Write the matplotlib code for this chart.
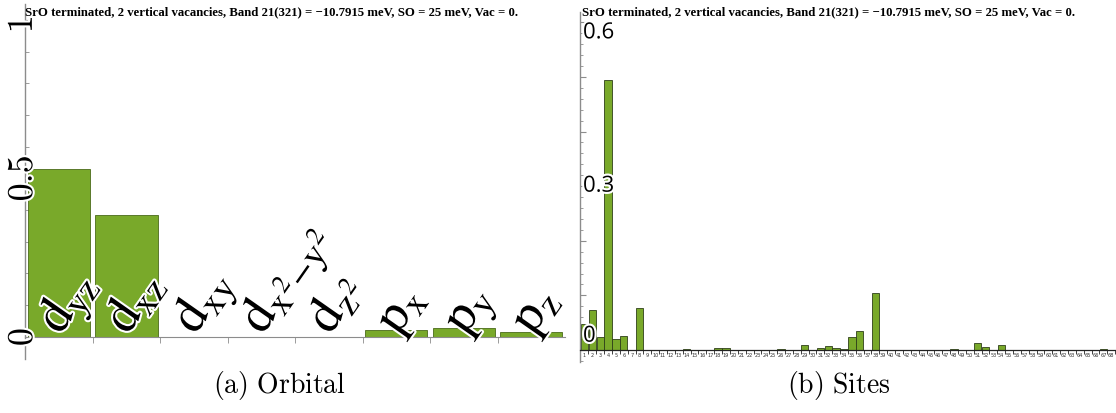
import matplotlib
matplotlib.use("Agg")
import matplotlib.pyplot as plt
import matplotlib.patheffects as pe
from matplotlib.ticker import MultipleLocator, FixedLocator, NullFormatter
from matplotlib.transforms import blended_transform_factory

# ---- data -----------------------------------------------------------------
title = ("SrO terminated, 2 vertical vacancies, Band 21(321) = \u221210.7915 meV, "
         "SO = 25 meV, Vac = 0.")

orbital_labels = [r"$\mathrm{d}_{\mathrm{yz}}$", r"$\mathrm{d}_{\mathrm{xz}}$",
                  r"$\mathrm{d}_{\mathrm{xy}}$",
                  r"$\mathrm{d}_{\mathrm{x}^{2}\mathrm{-y}^{2}}$",
                  r"$\mathrm{d}_{\mathrm{z}^{2}}$", r"$\mathrm{p}_{\mathrm{x}}$",
                  r"$\mathrm{p}_{\mathrm{y}}$", r"$\mathrm{p}_{\mathrm{z}}$"]
orbital_weight = [0.530, 0.385, 0.0, 0.0, 0.0, 0.023, 0.029, 0.016]
orbital_yticks = [0, 0.5, 1]

sites = list(range(1, 69))
site_weight = [
    0.048, 0.073, 0.024, 0.495, 0.020, 0.025, 0.0, 0.076, 0.0, 0.0,      # 1-10
    0.0, 0.0, 0.0, 0.001, 0.0, 0.0, 0.0, 0.004, 0.003, 0.0,              # 11-20
    0.0, 0.0, 0.0, 0.0, 0.0, 0.001, 0.0, 0.0, 0.0085, 0.0,               # 21-30
    0.004, 0.0073, 0.004, 0.001, 0.024, 0.034, 0.0, 0.105, 0.0, 0.0,     # 31-40
    0.0, 0.0, 0.0, 0.0, 0.0, 0.0, 0.0, 0.002, 0.0, 0.0,                  # 41-50
    0.012, 0.005, 0.0, 0.010, 0.0, 0.0, 0.0, 0.0, 0.0, 0.0,              # 51-60
    0.0, 0.0, 0.0, 0.0, 0.0, 0.0, 0.002, 0.0,                            # 61-68
]
site_yticks = [0, 0.3, 0.6]

captions = [r"$\mathrm{(a)\ Orbital}$", r"$\mathrm{(b)\ Sites}$"]

# ---- style ----------------------------------------------------------------
GREEN = "#79A92A"
EDGE = "#4a6a1a"
AXIS_GRAY = "#8c8c8c"
halo = [pe.withStroke(linewidth=3, foreground="white")]

W, H = 1116, 414
fig = plt.figure(figsize=(W / 100, H / 100), dpi=100)
fig.patch.set_facecolor("white")

# ---- (a) orbital weights ----------------------------------------------------
axL = fig.add_axes([25 / W, 54 / H, 540 / W, 355 / H])
xs = list(range(len(orbital_weight)))
axL.bar(xs, orbital_weight, width=0.92, color=GREEN, edgecolor=EDGE,
        linewidth=0.6, zorder=2)
axL.set_xlim(-0.504, 7.5)
axL.set_ylim(-0.07, 1.05)
for s in ("top", "right"):
    axL.spines[s].set_visible(False)
axL.spines["bottom"].set_position(("data", 0))
axL.spines["bottom"].set_color(AXIS_GRAY)
axL.spines["left"].set_color(AXIS_GRAY)
axL.spines["left"].set_linewidth(1.0)
axL.spines["bottom"].set_linewidth(0.8)

axL.yaxis.set_major_locator(FixedLocator(orbital_yticks))
axL.yaxis.set_minor_locator(MultipleLocator(0.1))
axL.yaxis.set_major_formatter(NullFormatter())
axL.tick_params(axis="y", which="major", direction="in", length=6,
                color=AXIS_GRAY, width=0.8)
axL.tick_params(axis="y", which="minor", direction="in", length=3,
                color=AXIS_GRAY, width=0.6)
axL.xaxis.set_major_locator(FixedLocator([]))
axL.xaxis.set_minor_locator(FixedLocator([i + 0.5 for i in xs[:-1]]))
axL.tick_params(axis="x", which="minor", direction="out", length=4,
                color=AXIS_GRAY, width=0.6)

# rotated value labels sit on the axis line; the top one is nudged below the title
trL = blended_transform_factory(axL.transAxes, axL.transData)
for v in orbital_yticks:
    axL.text(-3 / 540, v - (0.015 if v == 1 else 0), f"${v:g}$", transform=trL,
             rotation=90, ha="center", va="center", fontsize=26,
             math_fontfamily="cm", path_effects=halo, zorder=5, clip_on=False)

# orbital names written diagonally inside the bar slots
for i, lab in enumerate(orbital_labels):
    axL.text(i + 0.02, 0.003, lab, rotation=55, rotation_mode="anchor",
             ha="left", va="baseline", fontsize=38, math_fontfamily="stix",
             path_effects=halo, zorder=4)

# ---- (b) site weights -------------------------------------------------------
axR = fig.add_axes([580 / W, 51 / H, 536 / W, 350 / H])
axR.bar(sites, site_weight, width=0.94, color=GREEN, edgecolor="#2f3f1a",
        linewidth=0.6, zorder=2)
axR.set_xlim(0.43, 68.6)
axR.set_ylim(-0.022, 0.619)
for s in ("top", "right"):
    axR.spines[s].set_visible(False)
axR.spines["bottom"].set_position(("data", 0))
axR.spines["bottom"].set_color("#222222")
axR.spines["bottom"].set_linewidth(0.9)
axR.spines["left"].set_color(AXIS_GRAY)
axR.spines["left"].set_linewidth(1.0)

axR.yaxis.set_major_locator(MultipleLocator(0.1))
axR.yaxis.set_minor_locator(MultipleLocator(0.02))
axR.yaxis.set_major_formatter(NullFormatter())
axR.tick_params(axis="y", which="major", direction="in", length=4,
                color=AXIS_GRAY, width=0.8)
axR.tick_params(axis="y", which="minor", direction="in", length=2,
                color=AXIS_GRAY, width=0.6)

axR.set_xticks(sites)
axR.set_xticklabels([str(n) for n in sites], fontsize=3.6,
                    fontfamily="DejaVu Sans", color="#333333")
axR.xaxis.set_minor_locator(FixedLocator([n + 0.5 for n in sites]))
axR.tick_params(axis="x", which="major", length=0, pad=1.5)
axR.tick_params(axis="x", which="minor", direction="out", length=3,
                color="#222222", width=0.6)

trR = blended_transform_factory(axR.transAxes, axR.transData)
valign = {0: "bottom", 0.3: "center", 0.6: "top"}
for v in site_yticks:
    axR.text(3 / 536, v + (0.006 if v == 0 else 0), f"{v:g}", transform=trR,
             ha="left", va=valign[v], fontsize=16, fontfamily="Open Sans",
             path_effects=halo, zorder=5, clip_on=False)

# ---- titles and captions ----------------------------------------------------
for x0 in (25, 582):
    fig.text(x0 / W, 1 - 12 / H, title, ha="left", va="center",
             fontsize=9.2, fontweight="bold", fontfamily="Liberation Serif")

fig.text(279 / W, 1 - 386 / H, captions[0], ha="center", va="center",
         fontsize=20, math_fontfamily="cm")
fig.text(839 / W, 1 - 386 / H, captions[1], ha="center", va="center",
         fontsize=20, math_fontfamily="cm")

fig.savefig("out.png", dpi=100, facecolor="white")
